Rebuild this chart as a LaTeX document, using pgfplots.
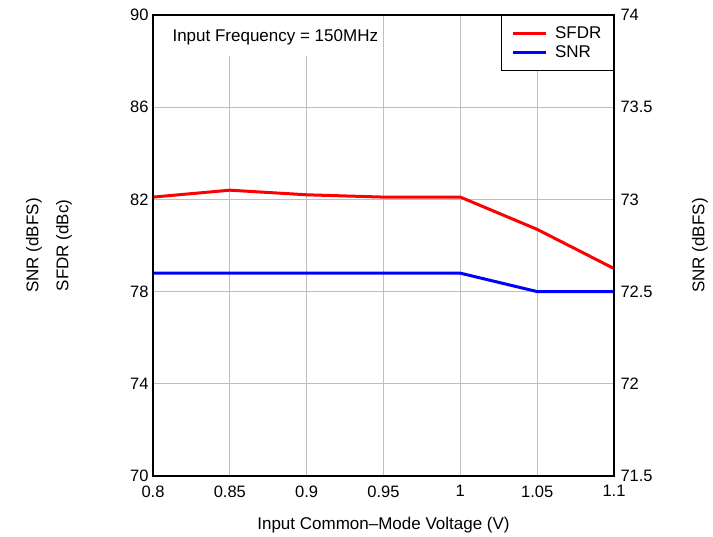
\documentclass[border=0pt]{standalone}
\usepackage{pgfplots}
\pgfplotsset{compat=1.18}
\usepackage{fontspec}
\setmainfont{Liberation Sans}
\begin{document}
\begin{tikzpicture}
\pgfplotsset{
  base/.style={
    scale only axis, width=461pt, height=461pt,
    xmin=0.8, xmax=1.1,
    xtick={0.8,0.85,0.9,0.95,1,1.05,1.1},
    tick style={draw=none},
    font=\fontsize{16.5}{19}\selectfont,
    /pgf/number format/assume math mode=true,
    axis line style={line width=2.5pt},
    x tick label style={/pgf/number format/fixed, /pgf/number format/precision=2, yshift=-6pt},
  }
}
\begin{axis}[base, name=ax,
  ymin=70, ymax=90, ytick={70,74,78,82,86,90},
  xmajorgrids, ymajorgrids,
  grid style={gray!50, line width=0.8pt},
  xlabel={Input Common\textendash Mode Voltage (V)},
  xlabel style={yshift=-13pt, font=\fontsize{17}{20}\selectfont},
  yticklabel style={xshift=-1pt},
  legend style={at={(1,1)}, anchor=north east, draw=black, line width=1.2pt,
    font=\fontsize{17}{20}\selectfont, row sep=2pt, inner xsep=10pt, inner ysep=9pt,
    legend cell align=left},
  legend image code/.code={\draw[#1, line width=3pt] (0pt,0pt) -- (33pt,0pt);},
]
\addplot[red, line width=3pt] coordinates {
 (0.8,82.1) (0.85,82.4) (0.9,82.2) (0.95,82.1) (1.0,82.1) (1.05,80.7) (1.1,79.0)};
\addlegendentry{\hspace{6pt}SFDR}
\addlegendimage{blue}
\addlegendentry{\hspace{6pt}SNR}
\end{axis}
\begin{axis}[base,
  ymin=71.5, ymax=74, ytick={71.5,72,72.5,73,73.5,74},
  axis y line*=right, axis x line=none,
  yticklabel style={/pgf/number format/fixed, xshift=3pt},
]
\addplot[blue, line width=3pt] coordinates {
 (0.8,72.6) (0.85,72.6) (0.9,72.6) (0.95,72.6) (1.0,72.6) (1.05,72.5) (1.1,72.5)};
\end{axis}
\draw[line width=2.5pt] (ax.south west) rectangle (ax.north east);
\node[fill=white, anchor=north west, inner sep=0pt, minimum width=224pt, minimum height=40pt] at ([xshift=1.3pt,yshift=-1.3pt]ax.north west) {};
\node[anchor=base west, font=\fontsize{17}{20}\selectfont] at ([xshift=16pt,yshift=-27pt]ax.north west) {Input Frequency = 150MHz};
\node[rotate=90, font=\fontsize{17}{20}\selectfont] at ([xshift=-119pt]ax.west) {SNR (dBFS)};
\node[rotate=90, font=\fontsize{17}{20}\selectfont] at ([xshift=-89pt]ax.west) {SFDR (dBc)};
\node[rotate=90, font=\fontsize{17}{20}\selectfont] at ([xshift=86pt]ax.east) {SNR (dBFS)};
\path ([xshift=-153pt,yshift=-59pt]ax.south west) rectangle ([xshift=99pt,yshift=15pt]ax.north east);
\end{tikzpicture}
\end{document}
